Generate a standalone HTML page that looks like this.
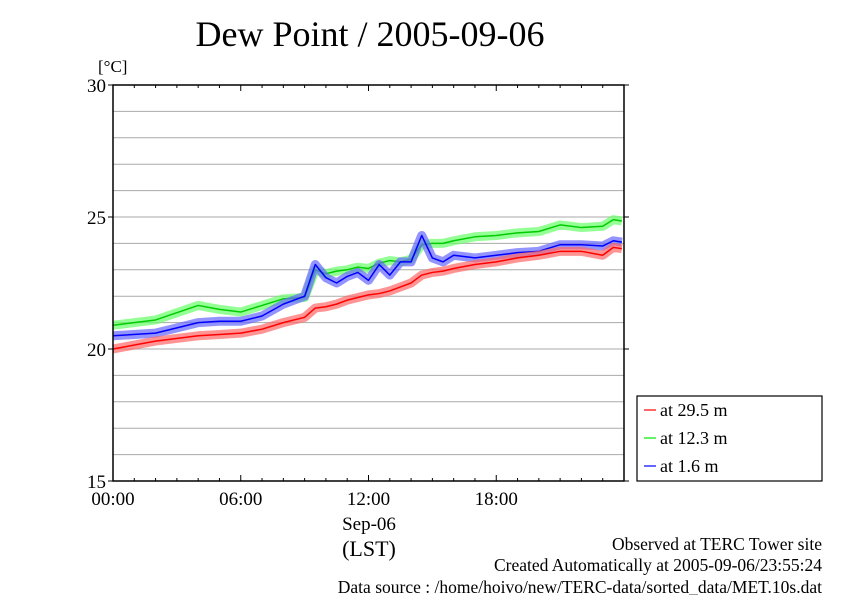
<!DOCTYPE html>
<html><head><meta charset="utf-8"><style>
body{margin:0;background:#fff;}
svg text{font-family:"Liberation Serif",serif;fill:#000;}
</style></head><body>
<svg width="842" height="595" xmlns="http://www.w3.org/2000/svg">
<text x="370" y="46" font-size="36" text-anchor="middle">Dew Point / 2005-09-06</text>
<text x="98" y="72" font-size="17">[°C]</text>
<g id="grid"></g>
<g id="series"></g>
<g id="axes"></g>
<text x="369" y="530" font-size="19" text-anchor="middle">Sep-06</text>
<text x="369" y="556" font-size="22" text-anchor="middle">(LST)</text>
<g>
<rect x="637" y="396" width="185" height="85" fill="#fff" stroke="#000" stroke-width="1.2"/>
<g><line x1="644" y1="410" x2="656" y2="410" stroke="#f33" stroke-width="1.5"/><text x="660" y="416" font-size="18">at 29.5 m</text></g>
<g><line x1="644" y1="438" x2="656" y2="438" stroke="#3e3" stroke-width="1.5"/><text x="660" y="444" font-size="18">at 12.3 m</text></g>
<g><line x1="644" y1="466" x2="656" y2="466" stroke="#33f" stroke-width="1.5"/><text x="660" y="472" font-size="18">at 1.6 m</text></g>
</g>
<text x="822" y="550" font-size="17.5" text-anchor="end">Observed at TERC Tower site</text>
<text x="822" y="571" font-size="17.5" text-anchor="end">Created Automatically at 2005-09-06/23:55:24</text>
<text x="822" y="593" font-size="17.5" text-anchor="end">Data source : /home/hoivo/new/TERC-data/sorted_data/MET.10s.dat</text>
</svg>
<script>
const hours=[0,2,4,5,6,7,8,9,9.5,10,10.5,11,11.5,12,12.5,13,13.5,14,14.5,15,15.5,16,17,18,19,20,21,22,23,23.5,23.9];
const red=[20.0,20.3,20.5,20.55,20.6,20.75,21.0,21.2,21.55,21.6,21.7,21.85,21.95,22.05,22.1,22.2,22.35,22.5,22.8,22.9,22.95,23.05,23.2,23.3,23.45,23.55,23.7,23.7,23.55,23.85,23.8];
const green=[20.9,21.1,21.65,21.5,21.4,21.65,21.9,21.95,23.0,22.85,22.95,23.0,23.1,23.05,23.25,23.35,23.3,23.4,23.95,24.0,24.0,24.1,24.25,24.3,24.4,24.45,24.7,24.6,24.65,24.9,24.85];
const blue=[20.5,20.6,21.0,21.05,21.05,21.25,21.7,22.0,23.2,22.7,22.5,22.75,22.9,22.6,23.2,22.8,23.3,23.3,24.3,23.45,23.3,23.55,23.45,23.55,23.65,23.7,23.95,23.95,23.9,24.1,24.05];
const yTicks=[15,20,25,30];
const xTickLabels=["00:00","06:00","12:00","18:00"];
const X0=113,X1=624,Y0=481,Y1=85;
const xs=h=>X0+(X1-X0)*h/24, ys=v=>Y0-(v-15)*(Y0-Y1)/15;
const NS="http://www.w3.org/2000/svg";
function mk(tag,attrs,parent){const e=document.createElementNS(NS,tag);for(const k in attrs)e.setAttribute(k,attrs[k]);parent.appendChild(e);return e;}
const grid=document.getElementById('grid'),axes=document.getElementById('axes'),ser=document.getElementById('series');
for(let v=16;v<30;v++){const l=mk('line',{x1:X0,x2:X1,y1:ys(v),y2:ys(v),stroke:'#aaa','stroke-width':1},grid);

}
const frame=mk('rect',{x:X0,y:Y1,width:X1-X0,height:Y0-Y1,fill:'none',stroke:'#000','stroke-width':1.5},axes);


for(let h=0;h<=24;h++){const len=h%6===0?6:3;
mk('line',{x1:xs(h),x2:xs(h),y1:Y1,y2:Y1+len,stroke:'#000'},axes);
mk('line',{x1:xs(h),x2:xs(h),y1:Y0,y2:Y0-len,stroke:'#000'},axes);}
yTicks.forEach(v=>{mk('line',{x1:X0-5,x2:X0,y1:ys(v),y2:ys(v),stroke:'#000'},axes);
mk('line',{x1:X1,x2:X1+5,y1:ys(v),y2:ys(v),stroke:'#000'},axes);
const t=mk('text',{x:X0-7,y:ys(v)+7,'font-size':19,'text-anchor':'end'},axes);t.textContent=v;

});
xTickLabels.forEach((s,i)=>{const t=mk('text',{x:xs(i*6),y:505,'font-size':19,'text-anchor':'middle'},axes);t.textContent=s;

});
function draw(vals,light,dark,name){const pts=hours.map((h,i)=>xs(h)+','+ys(vals[i])).join(' ');
const g=mk('g',{},ser);


mk('polyline',{points:pts,fill:'none',stroke:light,'stroke-width':9,'stroke-linejoin':'round','stroke-opacity':0.7},g);
mk('polyline',{points:pts,fill:'none',stroke:dark,'stroke-width':1.5,'stroke-linejoin':'round'},g);}
draw(green,'#6f6','#0c0','series-12.3m');
draw(blue,'#66f','#00f','series-1.6m');
draw(red,'#f66','#f00','series-29.5m');
</script>
</body></html>
